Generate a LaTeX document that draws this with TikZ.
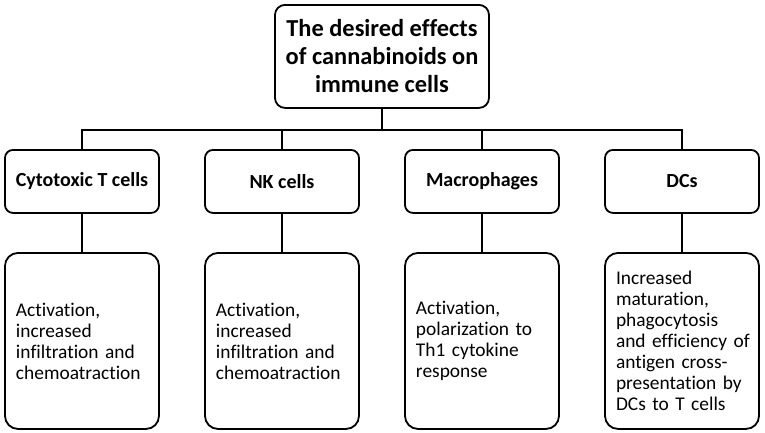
\documentclass[tikz,border=0pt]{standalone}
\usepackage{fontspec}
\setmainfont{Carlito}[Ligatures=NoCommon]
\usepackage{tikz-qtree}

\begin{document}
\begin{tikzpicture}[x=1pt,y=1pt,line width=1.8pt,
  every tree node/.style={draw,line width=1.8pt,anchor=north,align=center},
  edge from parent/.style={draw,line width=1.8pt},
  sibling distance=44.2pt,
  edge from parent path={(\tikzparentnode.south) -- ++(0,-21pt) -| (\tikzchildnode.north)}]
\tikzstyle{level 1}=[level distance=145pt]
\tikzstyle{level 2}=[level distance=103pt]
\tikzstyle{rootbox}=[rounded corners=10pt,minimum width=214pt,minimum height=103pt,
  font=\bfseries\fontsize{24.4}{28}\selectfont]
\tikzstyle{cellbox}=[rounded corners=8pt,minimum width=154pt,minimum height=63pt,
  font=\bfseries\fontsize{20}{24}\selectfont]
\tikzstyle{effectbox}=[rounded corners=13pt,minimum width=154pt,minimum height=176pt,
  inner xsep=11pt,text width=132pt,align=left,font=\fontsize{19.4}{21}\selectfont]
\useasboundingbox (-382,4) rectangle (383,-429);
\Tree[.\node[rootbox](effects){The desired effects\\of cannabinoids on\\immune cells};
  [.\node[cellbox](ctl){Cytotoxic T cells};
    \node[effectbox](ctleffect){Activation,\\increased\\infiltration and\\chemoatraction}; ]
  [.\node[cellbox](nk){NK cells};
    \node[effectbox](nkeffect){Activation,\\increased\\infiltration and\\chemoatraction}; ]
  [.\node[cellbox](mac){Macrophages};
    \node[effectbox](maceffect){Activation,\\polarization to\\Th1 cytokine\\response}; ]
  [.\node[cellbox](dc){DCs};
    \node[effectbox](dceffect){Increased\\maturation,\\phagocytosis\\\mbox{and efficiency of}\\antigen cross-\\\mbox{presentation by}\\DCs to T cells}; ]
  ]
\end{tikzpicture}
\end{document}
